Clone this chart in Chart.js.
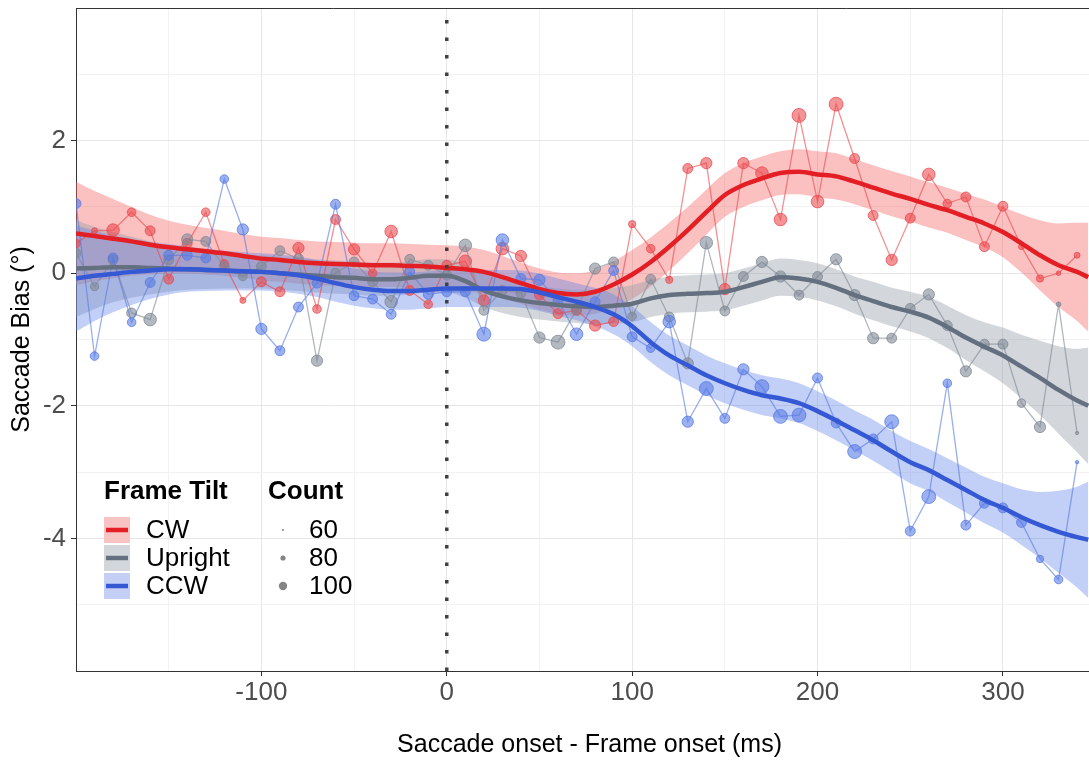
<!DOCTYPE html>
<html>
<head>
<meta charset="utf-8">
<script src="https://cdn.jsdelivr.net/npm/chart.js@4"></script>
<style>
html, body { margin: 0; padding: 0; background: #fff; overflow: hidden; }
#wrap { width: 1089px; height: 760px; overflow: hidden; }
</style>
</head>
<body>
<div id="wrap"><canvas id="myChart" width="1109" height="760"></canvas></div>
<script>
// time bins (ms after frame onset), one raw point every 10 ms
const timesMs = [-200,-190,-180,-170,-160,-150,-140,-130,-120,-110,-100,-90,-80,-70,-60,-50,-40,-30,-20,-10,
  0,10,20,30,40,50,60,70,80,90,100,110,120,130,140,150,160,170,180,190,200,210,220,230,240,250,260,270,280,290,
  300,310,320,330,340]
// the smoothed fit is read at the same bins plus the right edge
const fitTimesMs = timesMs.concat([346])

const xGridMs = [-200,-150,-100,-50,0,50,100,150,200,250,300,350]
const xTickLabels = [-100,0,100,200,300]
const yGrid = [-6,-5,-4,-3,-2,-1,0,1,2,3,4]
const yTickLabels = [-4,-2,0,2]

// raw saccade bias (deg)
const cwBias = [0.45,0.64,0.65,0.92,0.64,-0.09,0.45,0.92,0.14,-0.41,
  -0.13,-0.28,0.38,-0.54,0.81,0.36,0.00,0.63,-0.26,-0.47,
  0.12,0.18,-0.41,0.37,0.26,-0.33,-0.61,-0.56,-0.79,-0.73,
  0.74,0.37,-0.10,1.58,1.66,-0.24,1.66,1.51,0.81,2.38,
  1.08,2.55,1.73,0.87,0.20,0.83,1.49,1.05,1.15,0.40,
  1.01,0.40,-0.08,0.00,0.27]
const uprightBias = [0.30,-0.20,0.20,-0.60,-0.70,0.20,0.51,0.48,0.10,-0.05,
  0.10,0.34,0.22,-1.32,0.00,0.17,-0.13,-0.43,0.21,0.12,
  -0.03,0.42,-0.56,-0.26,-0.30,-0.97,-1.04,-0.55,0.07,0.17,
  -0.65,-0.09,-0.66,-1.36,0.46,-0.57,-0.05,0.17,-0.05,-0.33,
  -0.05,0.21,-0.33,-0.98,-0.98,-0.53,-0.32,-0.79,-1.48,-1.07,
  -1.07,-1.96,-2.32,-0.47,-2.41]
const ccwBias = [1.05,-1.25,0.23,-0.74,-0.14,0.27,0.27,0.23,1.42,0.66,
  -0.84,-1.17,-0.51,-0.15,1.04,-0.34,-0.39,-0.62,0.02,-0.32,
  -0.28,-0.28,-0.92,0.50,-0.08,-0.10,-0.41,-0.92,-0.43,0.04,
  -0.96,-1.13,-0.73,-2.24,-1.74,-2.19,-1.45,-1.71,-2.16,-2.14,
  -1.58,-2.26,-2.69,-2.50,-2.24,-3.89,-3.37,-1.66,-3.80,-3.47,
  -3.54,-3.76,-4.31,-4.62,-2.85]

// trial counts per bin (point size)
const cwCount = [80,70,95,80,85,85,85,80,80,70, 85,85,90,80,85,90,80,95,85,80,
  85,95,90,95,90,85,85,85,90,85, 75,80,75,85,90,90,90,95,95,100,
  95,100,85,85,90,85,95,80,85,85, 85,70,75,65,70]
const uprightCount = [85,80,85,85,95,85,90,85,85,80, 85,85,85,90,85,85,85,95,85,85,
  85,95,85,85,85,90,100,85,90,85, 80,85,85,90,95,85,85,90,90,85,
  85,90,90,90,85,85,90,85,90,85, 85,80,90,65,60]
const ccwCount = [85,80,85,80,85,85,85,85,80,90, 90,85,85,85,85,85,85,85,85,85,
  85,85,100,95,85,90,85,95,85,85, 85,80,95,90,100,85,90,100,100,100,
  85,85,100,85,100,85,100,80,85,85, 85,85,75,80,60]
const legendCounts = [60,80,100]

// smoothed fit and half width of its confidence band
const cwFit = [0.60,0.56,0.52,0.48,0.43,0.39,0.36,0.33,0.30,0.26, 0.22,0.20,0.17,0.15,0.14,0.13,0.12,0.12,0.11,0.10,
  0.08,0.06,0.02,-0.06,-0.15,-0.24,-0.30,-0.32,-0.28,-0.17, -0.02,0.17,0.40,0.65,0.92,1.18,1.33,1.43,1.51,1.53,
  1.49,1.46,1.38,1.29,1.20,1.12,1.03,0.95,0.85,0.75, 0.62,0.45,0.27,0.12,0.02,-0.06]
const cwBand = [0.78,0.68,0.60,0.52,0.45,0.40,0.37,0.35,0.34,0.33, 0.33,0.33,0.33,0.33,0.33,0.33,0.33,0.33,0.33,0.33,
  0.34,0.34,0.33,0.32,0.31,0.31,0.31,0.32,0.33,0.35, 0.37,0.37,0.36,0.35,0.34,0.33,0.33,0.33,0.33,0.34,
  0.35,0.35,0.34,0.34,0.34,0.34,0.34,0.34,0.35,0.36, 0.38,0.44,0.53,0.63,0.74,0.82]
const uprightFit = [0.07,0.08,0.09,0.09,0.08,0.07,0.06,0.05,0.04,0.03, 0.02,0.00,-0.02,-0.04,-0.06,-0.07,-0.09,-0.09,-0.07,-0.04,
  -0.04,-0.12,-0.26,-0.35,-0.41,-0.45,-0.48,-0.50,-0.51,-0.49, -0.46,-0.38,-0.33,-0.31,-0.30,-0.28,-0.21,-0.13,-0.06,-0.08,
  -0.13,-0.22,-0.33,-0.42,-0.51,-0.58,-0.67,-0.81,-0.97,-1.11, -1.24,-1.41,-1.58,-1.76,-1.92,-2.00]
const uprightBand = [0.73,0.62,0.53,0.46,0.40,0.35,0.31,0.29,0.27,0.26, 0.25,0.25,0.25,0.25,0.25,0.25,0.25,0.25,0.25,0.25,
  0.25,0.25,0.25,0.25,0.25,0.25,0.25,0.25,0.26,0.27, 0.28,0.28,0.28,0.28,0.28,0.28,0.28,0.28,0.28,0.28,
  0.28,0.28,0.28,0.29,0.29,0.30,0.31,0.32,0.34,0.37, 0.42,0.48,0.56,0.66,0.78,0.88]
const ccwFit = [-0.08,-0.04,-0.01,0.02,0.04,0.06,0.06,0.05,0.04,0.03, 0.02,0.00,-0.03,-0.08,-0.15,-0.21,-0.25,-0.27,-0.27,-0.25,
  -0.23,-0.23,-0.23,-0.23,-0.24,-0.29,-0.36,-0.43,-0.51,-0.62, -0.80,-1.04,-1.24,-1.39,-1.54,-1.66,-1.76,-1.84,-1.89,-1.96,
  -2.08,-2.22,-2.37,-2.52,-2.69,-2.85,-2.97,-3.12,-3.27,-3.42, -3.54,-3.68,-3.80,-3.90,-3.98,-4.02]
const ccwBand = [0.80,0.68,0.58,0.50,0.43,0.38,0.34,0.32,0.30,0.29, 0.28,0.28,0.28,0.28,0.28,0.28,0.28,0.28,0.28,0.28,
  0.28,0.28,0.28,0.28,0.28,0.28,0.28,0.28,0.29,0.30, 0.30,0.30,0.30,0.30,0.30,0.30,0.30,0.30,0.30,0.30,
  0.30,0.30,0.30,0.31,0.31,0.32,0.32,0.33,0.34,0.35, 0.37,0.42,0.50,0.62,0.76,0.88]

const FONT = '"Liberation Sans", Arial, sans-serif'
Chart.defaults.font.family = FONT

// count -> point radius (px)
function countToRadius(n) {
    return Math.max(1, 1 + 6.6 * (n - 55) / 50)
}

const series = [
    { name: "CW", raw: cwBias, count: cwCount, fit: cwFit, band: cwBand,
      rgb: "235,70,75", line: "#e31e24", ribbon: "rgba(245,105,105,0.42)", key: "#f7c3c3" },
    { name: "Upright", raw: uprightBias, count: uprightCount, fit: uprightFit, band: uprightBand,
      rgb: "125,135,148", line: "#647080", ribbon: "rgba(150,160,170,0.42)", key: "#d3d7dc" },
    { name: "CCW", raw: ccwBias, count: ccwCount, fit: ccwFit, band: ccwBand,
      rgb: "85,120,228", line: "#3558d4", ribbon: "rgba(95,130,232,0.38)", key: "#c3cff5" }
]

const datasets = []
series.forEach((s, k) => {
    const upper = s.fit.map((v, i) => ({ x: fitTimesMs[i], y: v + s.band[i] }))
    const lower = s.fit.map((v, i) => ({ x: fitTimesMs[i], y: v - s.band[i] }))
    datasets.push({ data: upper, fill: "+1", backgroundColor: s.ribbon, borderWidth: 0, pointRadius: 0,
        cubicInterpolationMode: "monotone", order: 30 - k })
    datasets.push({ data: lower, fill: false, borderWidth: 0, pointRadius: 0,
        cubicInterpolationMode: "monotone", order: 30 - k })
    datasets.push({
        data: s.raw.map((v, i) => ({ x: timesMs[i], y: v })),
        borderColor: "rgba(" + s.rgb + ",0.6)", borderWidth: 1.3,
        pointRadius: s.count.map(countToRadius),
        pointBackgroundColor: "rgba(" + s.rgb + ",0.58)",
        pointBorderColor: "rgba(" + s.rgb + ",0.75)", pointBorderWidth: 1,
        order: 20 - k
    })
    datasets.push({ data: s.fit.map((v, i) => ({ x: fitTimesMs[i], y: v })),
        borderColor: s.line, borderWidth: 4.5, pointRadius: 0,
        cubicInterpolationMode: "monotone", order: 10 - k })
})
// frame onset marker
datasets.push({ data: [{ x: 0, y: -6 }, { x: 0, y: 4 }], borderColor: "#404040", borderWidth: 3.5,
    borderDash: [3.5, 14], borderCapStyle: "butt", pointRadius: 0, order: 0 })

const legendPlugin = {
    id: "ggLegend",
    afterDraw(chart) {
        const ctx = chart.ctx
        ctx.save()
        ctx.textBaseline = "middle"
        ctx.fillStyle = "#000"
        ctx.font = "bold 26px " + FONT
        ctx.fillText("Frame Tilt", 104, 492)
        ctx.fillText("Count", 268, 492)
        ctx.font = "26px " + FONT
        const rows = [530, 558, 586]
        series.forEach((s, i) => {
            ctx.fillStyle = s.key
            ctx.fillRect(104, rows[i] - 13, 26, 26)
            ctx.strokeStyle = s.line
            ctx.lineWidth = 4.5
            ctx.beginPath()
            ctx.moveTo(106, rows[i])
            ctx.lineTo(128, rows[i])
            ctx.stroke()
            ctx.fillStyle = "#000"
            ctx.fillText(s.name, 146, rows[i] + 1)
        })
        legendCounts.forEach((n, i) => {
            ctx.fillStyle = "rgba(110,110,110,0.85)"
            ctx.beginPath()
            ctx.arc(283, rows[i], countToRadius(n) * 0.6, 0, Math.PI * 2)
            ctx.fill()
            ctx.fillStyle = "#000"
            ctx.fillText(String(n), 309, rows[i] + 1)
        })
        ctx.restore()
    }
}

const miGraf = document.querySelector("#myChart")
const myChart = new Chart(miGraf, {
    type: "line",
    data: { datasets },
    plugins: [legendPlugin],
    options: {
        responsive: false,
        animation: false,
        devicePixelRatio: 1,
        layout: { padding: { top: 8, right: 0, left: 0, bottom: 0 } },
        plugins: { legend: { display: false }, tooltip: { enabled: false } },
        scales: {
            x: {
                type: "linear", min: -200, max: 354,
                afterBuildTicks: (scale) => { scale.ticks = xGridMs.map(v => ({ value: v })) },
                afterFit: (scale) => { scale.height = 89; scale.paddingLeft = 0; scale.paddingRight = 0 },
                ticks: {
                    autoSkip: false, maxRotation: 0, padding: 1, color: "#4d4d4d", font: { size: 26 },
                    callback: (v) => xTickLabels.includes(v) ? String(v) : ""
                },
                grid: {
                    color: (c) => c.tick && c.tick.value % 100 === 0 ? "#e6e6e6" : "#f2f2f2",
                    tickColor: (c) => c.tick && xTickLabels.includes(c.tick.value) ? "#333" : "rgba(0,0,0,0)",
                    tickLength: 5, lineWidth: 1
                },
                border: { display: true, color: "#333", width: 1 },
                title: { display: true, text: "Saccade onset - Frame onset (ms)", color: "#000",
                    font: { size: 25 }, padding: { top: 0, bottom: 0 } }
            },
            y: {
                min: -6, max: 4,
                afterBuildTicks: (scale) => { scale.ticks = yGrid.map(v => ({ value: v })) },
                afterFit: (scale) => { scale.width = 76; scale.paddingTop = 0; scale.paddingBottom = 0 },
                ticks: {
                    autoSkip: false, padding: 5, color: "#4d4d4d", font: { size: 26 },
                    callback: (v) => yTickLabels.includes(v) ? String(v) : ""
                },
                grid: {
                    color: (c) => {
                        if (!c.tick) return "#e6e6e6"
                        if (c.tick.value === 4) return "#333"
                        return c.tick.value % 2 === 0 ? "#e6e6e6" : "#f2f2f2"
                    },
                    tickColor: (c) => c.tick && yTickLabels.includes(c.tick.value) ? "#333" : "rgba(0,0,0,0)",
                    tickLength: 5, lineWidth: 1
                },
                border: { display: true, color: "#333", width: 1 },
                title: { display: true, text: "Saccade Bias (°)", color: "#000",
                    font: { size: 25 }, padding: { top: 7, bottom: 0 } }
            }
        }
    }
})
</script>
</body>
</html>
